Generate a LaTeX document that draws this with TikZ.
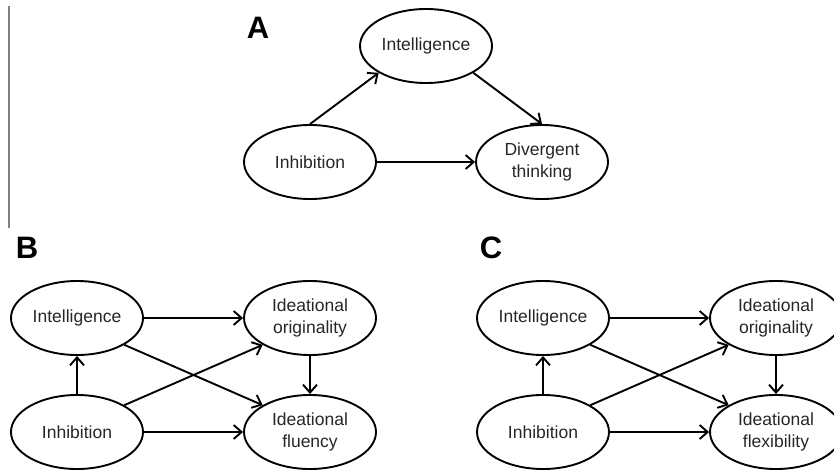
\documentclass[tikz,border=0pt]{standalone}
\usepackage{fontspec}
\setmainfont{Liberation Sans}
\usetikzlibrary{shapes.geometric,arrows.meta}
\begin{document}
\begin{tikzpicture}[x=1pt,y=-1pt,
  var/.style={ellipse,draw,line width=1.9pt,minimum width=132pt,minimum height=74pt,inner sep=0pt,align=center,
    font=\fontsize{17.5}{22}\selectfont,text=black!85},
  conn/.style={line width=1.9pt,-{Straight Barb[length=8pt,width=14pt,line width=1.9pt]}},
  panel/.style={font=\fontsize{31}{31}\bfseries\selectfont}]
\useasboundingbox (0,0) rectangle (834,471);
\clip (0,0) rectangle (834,471);
% stray vertical rule
\draw[gray,line width=1.2pt] (9,6) -- (9,228);
% Panel A
\node[panel] (lA) at (258,28) {A};
\node[var] (intA) at (426,46) {Intelligence};
\node[var] (inhA) at (310,162) {Inhibition};
\node[var] (divA) at (542,162) {Divergent\\thinking};
\draw[conn] (inhA.north) -- (intA.south west);
\draw[conn] (intA.south east) -- (divA.north);
\draw[conn] (inhA.east) -- (divA.west);
% Panel B
\node[panel] (lB) at (27,248) {B};
\node[var] (intB) at (77,318) {Intelligence};
\node[var] (oriB) at (310,318) {Ideational\\originality};
\node[var] (inhB) at (77,432) {Inhibition};
\node[var] (fluB) at (310,432) {Ideational\\fluency};
\draw[conn] (intB.east) -- (oriB.west);
\draw[conn] (inhB.north) -- (intB.south);
\draw[conn] (inhB.north east) -- (oriB.south west);
\draw[conn] (intB.south east) -- (fluB.north west);
\draw[conn] (oriB.south) -- (fluB.north);
\draw[conn] (inhB.east) -- (fluB.west);
% Panel C
\node[panel] (lC) at (491,248) {C};
\node[var] (intC) at (543,318) {Intelligence};
\node[var] (oriC) at (776,318) {Ideational\\originality};
\node[var] (inhC) at (543,432) {Inhibition};
\node[var] (flxC) at (776,432) {Ideational\\flexibility};
\draw[conn] (intC.east) -- (oriC.west);
\draw[conn] (inhC.north) -- (intC.south);
\draw[conn] (inhC.north east) -- (oriC.south west);
\draw[conn] (intC.south east) -- (flxC.north west);
\draw[conn] (oriC.south) -- (flxC.north);
\draw[conn] (inhC.east) -- (flxC.west);
\end{tikzpicture}
\end{document}
